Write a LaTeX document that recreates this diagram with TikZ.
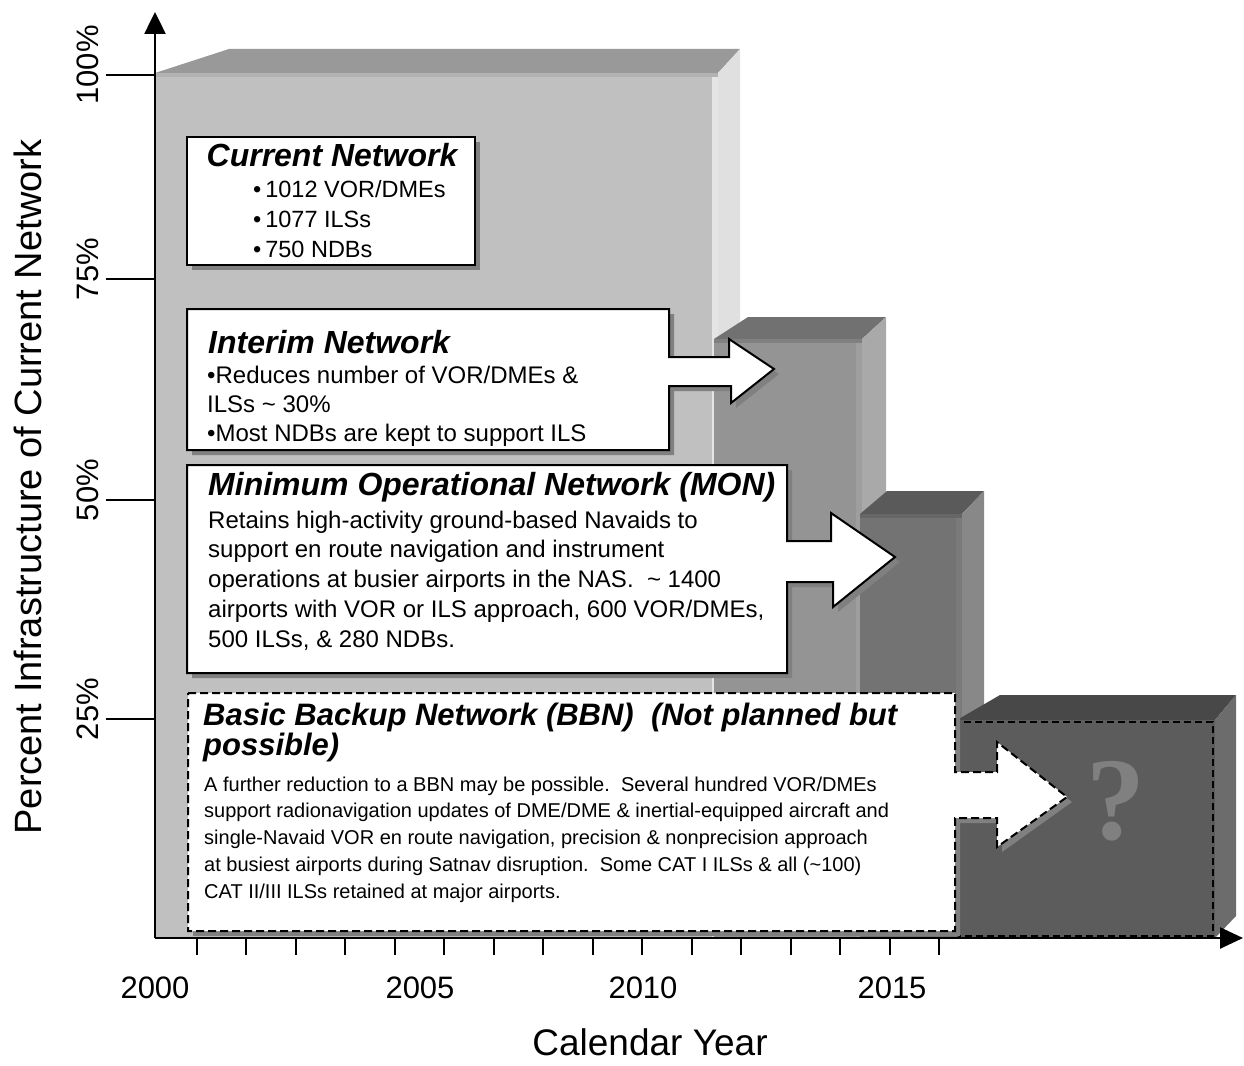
\documentclass[tikz,border=0pt]{standalone}
\usepackage{fontspec}
\setmainfont{Liberation Sans}
\newfontfamily\qfont{Liberation Serif}
\usetikzlibrary{arrows.meta,shadows}
\usepackage{xcolor}
\definecolor{frontA}{HTML}{C0C0C0}\definecolor{topA}{HTML}{999999}\definecolor{sideA}{HTML}{E0E0E0}
\definecolor{frontB}{HTML}{949494}\definecolor{topB}{HTML}{717171}\definecolor{sideB}{HTML}{A9A9A9}
\definecolor{frontC}{HTML}{737373}\definecolor{topC}{HTML}{5A5A5A}\definecolor{sideC}{HTML}{888888}
\definecolor{frontD}{HTML}{5C5C5C}\definecolor{topD}{HTML}{484848}\definecolor{sideD}{HTML}{6C6C6C}
\definecolor{shadowgray}{HTML}{808080}

\begin{document}
\begin{tikzpicture}[x=1pt,y=-1pt,
  callout/.style={fill=white,draw=black,line width=2pt,line join=miter,
    drop shadow={shadow xshift=5pt,shadow yshift=-5pt,fill=shadowgray,opacity=1}},
  boxtitle/.style={inner sep=0pt,font=\fontsize{32}{32}\selectfont\bfseries\itshape},
  boxbody/.style={anchor=base west,inner sep=0pt,align=left,font=\fontsize{24}{29}\selectfont},
  axisline/.style={line width=2.5pt},
  ticklbl/.style={rotate=90,anchor=base,inner sep=0pt,font=\fontsize{31}{31}\selectfont},
  yearlbl/.style={anchor=base,inner sep=0pt,font=\fontsize{31}{31}\selectfont}]
\useasboundingbox (0,0) rectangle (1244,1065);

% bar 1 (current)
\fill[topA] (155,73) -- (229,49) -- (740,49) -- (718,73) -- cycle;
\fill[sideA] (718,73) -- (740,49) -- (740,915) -- (718,938) -- cycle;
\fill[frontA] (155,73) rectangle (718,938);
\fill[black!30] (155,73) rectangle (718,77);
\fill[black!10] (712,77) rectangle (718,938);
% bar 2 (interim)
\fill[topB] (714,339) -- (748,317) -- (886,317) -- (862,339) -- cycle;
\fill[sideB] (862,339) -- (886,317) -- (886,915) -- (862,938) -- cycle;
\fill[frontB] (714,339) rectangle (862,938);
\fill[black!50] (714,339) rectangle (862,343);
\fill[black!38] (856,343) rectangle (862,938);
% bar 3 (MON)
\fill[topC] (860,514) -- (887,491) -- (984,491) -- (962,514) -- cycle;
\fill[sideC] (962,514) -- (984,491) -- (984,915) -- (962,938) -- cycle;
\fill[frontC] (860,514) rectangle (962,938);
\fill[black!60] (860,514) rectangle (962,518);
\fill[black!52] (956,518) rectangle (962,938);
% bar 4 (BBN)
\fill[topD] (957,720) -- (1000,695) -- (1236,695) -- (1215,720) -- cycle;
\fill[sideD] (1215,720) -- (1236,695) -- (1236,916) -- (1215,938) -- cycle;
\fill[frontD] (957,720) rectangle (1215,938);
\draw[line width=1.5pt,dash pattern=on 7pt off 4pt] (959,722) rectangle (1213,936);
\node[text=shadowgray,font=\qfont\bfseries\fontsize{118}{118}\selectfont] (qmark) at (1116,801) {?};

% callouts
\draw[callout] (187,137) rectangle (475,265);
\draw[callout] (187,309) -- (669,309) -- (669,357) -- (729,357) -- (729,339) -- (774,369)
  -- (731,403) -- (731,386) -- (669,386) -- (669,450) -- (187,450) -- cycle;
\draw[callout] (187,465) -- (787,465) -- (787,541) -- (831,541) -- (831,513) -- (895,557)
  -- (833,607) -- (833,582) -- (787,582) -- (787,673) -- (187,673) -- cycle;
\draw[callout,dash pattern=on 8pt off 4pt] (188,693) -- (955,693) -- (955,772) -- (997,772) -- (997,742)
  -- (1067,797) -- (997,847) -- (997,818) -- (955,818) -- (955,931) -- (188,931) -- cycle;

% texts (multi-line nodes sit on their last baseline)
\node[boxtitle,anchor=base] (curT) at (332,166) {Current Network};
\node[boxbody,font=\fontsize{23.5}{30}\selectfont] (curB) at (253,257)
  {•\,1012 VOR/DMEs\\•\,1077 ILSs\\•\,750 NDBs};
\node[boxtitle,anchor=base west] (intT) at (208,353) {Interim Network};
\node[boxbody] (intB) at (207,441)
  {•Reduces number of VOR/DMEs \&\\ILSs \textasciitilde{} 30\%\\•Most NDBs are kept to support ILS};
\node[boxtitle,anchor=base west] (monT) at (208,495) {Minimum Operational Network (MON)};
\node[boxbody,font=\fontsize{24}{29.7}\selectfont] (monB) at (208,647)
  {Retains high-activity ground-based Navaids to\\
   support en route navigation and instrument\\
   operations at busier airports in the NAS.\ \ \textasciitilde{} 1400\\
   airports with VOR or ILS approach, 600 VOR/DMEs,\\
   500 ILSs, \& 280 NDBs.};
\node[boxtitle,anchor=base west,align=left,font=\fontsize{31}{30}\selectfont\bfseries\itshape] (bbnT) at (203,755)
  {Basic Backup Network (BBN)\ \ (Not planned but\\possible)};
\node[boxbody,font=\fontsize{20}{26.7}\selectfont] (bbnB) at (204,898)
  {A further reduction to a BBN may be possible.\ \ Several hundred VOR/DMEs\\
   support radionavigation updates of DME/DME \& inertial-equipped aircraft and\\
   single-Navaid VOR en route navigation, precision \& nonprecision approach\\
   at busiest airports during Satnav disruption.\ \ Some CAT I ILSs \& all (\textasciitilde100)\\
   CAT II/III ILSs retained at major airports.};

% axes
\coordinate (O) at (155,938);
\coordinate (ytip) at (155,12);
\coordinate (xtip) at (1243,938);
\draw[axisline,-{Triangle[length=22pt,width=21pt]}] (O) -- (ytip);
\draw[axisline,-{Triangle[length=23pt,width=21pt]}] (O) -- (xtip);
\foreach \y/\t/\ly in {75/100/65,279/75/269,500/50/490,719/25/709}{
  \draw[line width=2pt] (106,\y) -- (155,\y);
  \node[ticklbl] (pct\t) at (98,\ly) {\t\%};
}
\foreach \i in {0,...,15}
  \draw[line width=2pt] ({197+49.47*\i},938) -- ({197+49.47*\i},955);
\foreach \x/\t in {155/2000,420/2005,643/2010,892/2015}
  \node[yearlbl] (yr\t) at (\x,998) {\t};
\node[anchor=base,inner sep=0pt,font=\fontsize{37}{37}\selectfont] (xlbl) at (650,1055) {Calendar Year};
\node[rotate=90,anchor=base,inner sep=0pt,font=\fontsize{38}{38}\selectfont] (ylbl) at (41,487)
  {Percent Infrastructure of Current Network};
\end{tikzpicture}
\end{document}
